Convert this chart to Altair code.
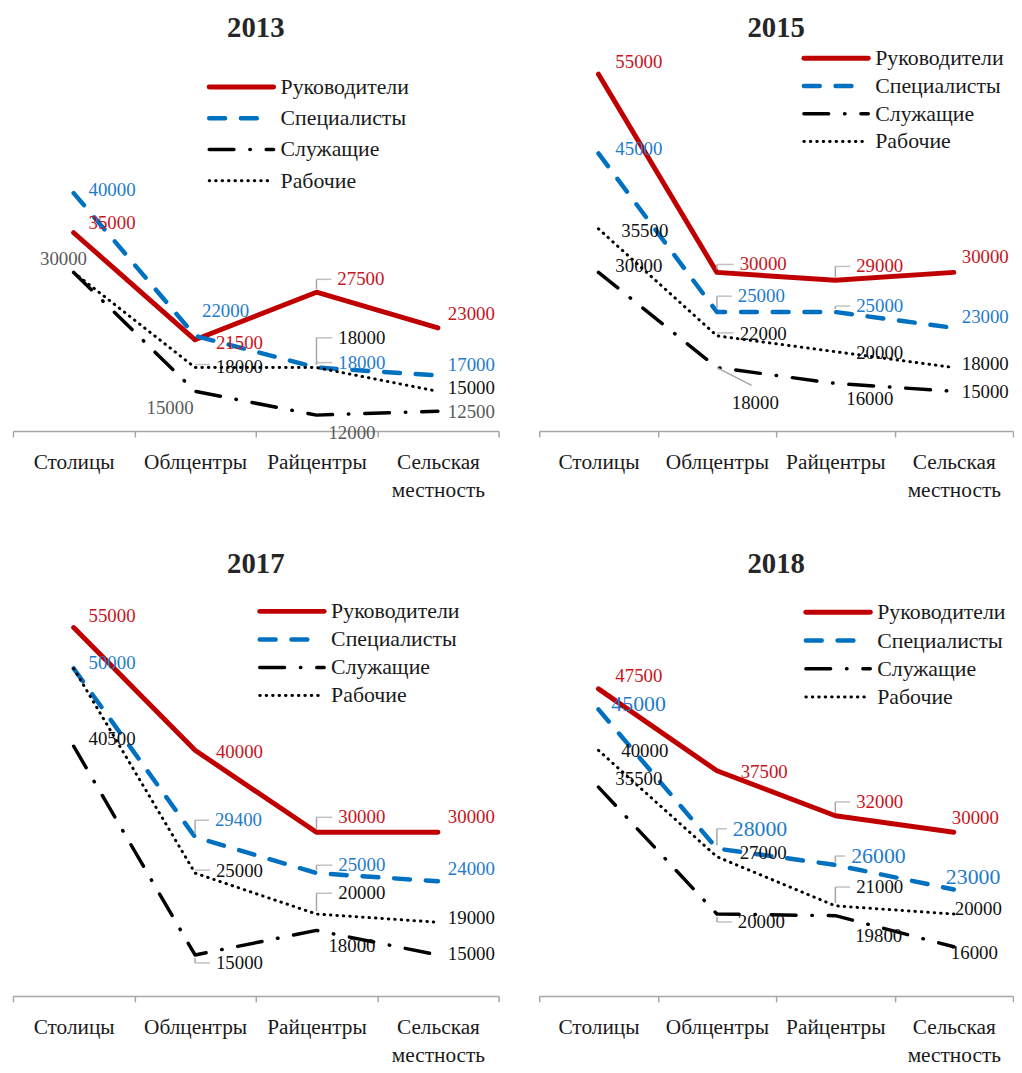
import altair as alt
import pandas as pd

categories = ["Столицы", "Облцентры", "Райцентры", "Сельская местность"]
series = ["Руководители", "Специалисты", "Служащие", "Рабочие"]
years = ["2013", "2015", "2017", "2018"]

# values (order of categories)
ruk_2013 = [35000, 21500, 27500, 23000]
spec_2013 = [40000, 22000, 18000, 17000]
sluzh_2013 = [30000, 15000, 12000, 12500]
rab_2013 = [30000, 18000, 18000, 15000]

ruk_2015 = [55000, 30000, 29000, 30000]
spec_2015 = [45000, 25000, 25000, 23000]
sluzh_2015 = [30000, 18000, 16000, 15000]
rab_2015 = [35500, 22000, 20000, 18000]

ruk_2017 = [55000, 40000, 30000, 30000]
spec_2017 = [50000, 29400, 25000, 24000]
sluzh_2017 = [40500, 15000, 18000, 15000]
rab_2017 = [50000, 25000, 20000, 19000]

ruk_2018 = [47500, 37500, 32000, 30000]
spec_2018 = [45000, 28000, 26000, 23000]
sluzh_2018 = [35500, 20000, 19800, 16000]
rab_2018 = [40000, 27000, 21000, 20000]

values = {
    "2013": [ruk_2013, spec_2013, sluzh_2013, rab_2013],
    "2015": [ruk_2015, spec_2015, sluzh_2015, rab_2015],
    "2017": [ruk_2017, spec_2017, sluzh_2017, rab_2017],
    "2018": [ruk_2018, spec_2018, sluzh_2018, rab_2018],
}

# ---- styling (kept apart from data) ----
FONT = "Liberation Serif"
line_styles = [
    dict(color="#C00000", strokeWidth=5),
    dict(color="#0070C0", strokeWidth=4.5, strokeDash=[16, 16]),
    dict(color="#000000", strokeWidth=3.5, strokeDash=[25, 16, 0.5, 16]),
    dict(color="#000000", strokeWidth=3, strokeDash=[0.5, 6]),
]
legend_lengths = [65, 60, 65, 65]
label_colors = ["#C8141C", "#1F7BCB", "#111111", "#111111"]
GRAY_TEXT = "#595959"
LEADER = "#A6A6A6"

# label offsets in pixels (dx, dy) from each point; None = no label
label_offsets = {
    "2013": [
        [(15, -10), (21, 3), (21, -13), (10, -14)],
        [(15, -3), (7, -25), (22, -5), (10, -11)],
        [(-34, -13), (-49, 17), (12, 18), (10, 1)],
        [None, (21, 0), (22, -30), (10, -3)],
    ],
    "2015": [
        [(17, -12), (23, -8), (21, -14), (8, -15)],
        [(17, -4), (21, -16), (21, -6), (8, -11)],
        [(17, -6), (15, 36), (11, 16), (8, 1)],
        [(23, 2), (23, -2), (21, 1), (8, -4)],
    ],
    "2017": [
        [(15, -12), (21, 2), (22, -15), (10, -15)],
        [(15, -5), (20, -17), (22, -8), (10, -12)],
        [(15, -7), (21, 8), (12, 16), (10, -1)],
        [None, (21, -2), (22, -21), (10, -4)],
    ],
    "2018": [
        [(17, -13), (24, 1), (21, -14), (-2, -14)],
        [(13, -5), (16, -20), (16, -9), (-8, -13)],
        [(17, -8), (21, 8), (20, 21), (-3, 6)],
        [(23, 1), (23, -4), (21, -19), (1, -5)],
    ],
}
# leader lines: (year, series index, category index, kind)
leaders = [
    ("2013", 0, 2, "b"), ("2013", 1, 2, "b"), ("2013", 3, 1, "b"), ("2013", 3, 2, "b"),
    ("2015", 0, 1, "b"), ("2015", 0, 2, "b"), ("2015", 1, 1, "b"), ("2015", 1, 2, "b"),
    ("2015", 3, 1, "b"), ("2015", 2, 1, "d"),
    ("2017", 0, 2, "b"), ("2017", 1, 1, "b"), ("2017", 1, 2, "b"), ("2017", 3, 1, "b"),
    ("2017", 3, 2, "b"), ("2017", 2, 1, "b"),
    ("2018", 0, 2, "b"), ("2018", 1, 1, "b"), ("2018", 1, 2, "b"), ("2018", 3, 2, "b"),
    ("2018", 2, 1, "b"),
]
# legend placement per panel: (x of symbol start, first row y, row step)
legend_pos = {"2013": (198, 53, 31.5), "2015": (267, 24, 28),
              "2017": (249, 25, 28.3), "2018": (269, 26, 28.5)}


def panel(year, width, height, title_offset, clip):
    vals = values[year]
    xenc = alt.X(
        "cat:N", sort=categories, bandPosition=0.5,
        scale=alt.Scale(domain=categories, paddingInner=0, paddingOuter=0),
        axis=alt.Axis(
            title=None, labelAngle=0, grid=False, tickBand="extent",
            domainColor="#A6A6A6", domainWidth=1.5, tickColor="#A6A6A6",
            tickWidth=1.5, tickSize=6, labelFont=FONT, labelFontSize=21.5,
            labelColor="#1a1a1a", labelPadding=15, labelLineHeight=28,
            labelOverlap=False,
            labelExpr="datum.value == 'Сельская местность' ? ['Сельская', 'местность'] : datum.value",
        ),
    )
    yenc = alt.Y("v:Q", scale=alt.Scale(domain=[10000, 60000], nice=False, zero=False), axis=None)
    layers = []
    for si in range(len(series)):
        df = pd.DataFrame({"cat": categories, "v": vals[si]})
        layers.append(
            alt.Chart(df).mark_line(strokeCap="round", strokeJoin="round", **line_styles[si])
            .encode(x=xenc, y=yenc)
        )
    # leader lines
    for (yr, si, ci, kind) in leaders:
        if yr != year:
            continue
        dx, dy = label_offsets[year][si][ci]
        df = pd.DataFrame({"cat": [categories[ci]], "v": [vals[si][ci]]})
        if kind == "d":
            layers.append(
                alt.Chart(df).mark_rule(color=LEADER, strokeWidth=1.5, x2Offset=35, y2Offset=18)
                .encode(x=xenc, x2="cat:N", y=yenc, y2="v:Q")
            )
            continue
        sign = -1 if dy < 0 else 1
        if abs(dy) > 4:
            layers.append(
                alt.Chart(df).mark_rule(color=LEADER, strokeWidth=1.5, yOffset=sign * 3, y2Offset=dy)
                .encode(x=xenc, y=yenc, y2="v:Q")
            )
        length = max(dx - 6, 4)
        layers.append(
            alt.Chart(df).mark_tick(color=LEADER, orient="horizontal", size=length, thickness=1.5,
                                    xOffset=length / 2, yOffset=dy if abs(dy) > 4 else -3)
            .encode(x=xenc, y=yenc)
        )
    # value labels
    for si in range(len(series)):
        for ci in range(len(categories)):
            off = label_offsets[year][si][ci]
            if off is None:
                continue
            color = label_colors[si]
            if year == "2013" and si == 2:
                color = GRAY_TEXT
            fsize = 22 if (year == "2018" and si == 1) else 19
            df = pd.DataFrame({"cat": [categories[ci]], "v": [vals[si][ci]], "t": [str(vals[si][ci])]})
            layers.append(
                alt.Chart(df).mark_text(align="left", baseline="middle", dx=off[0], dy=off[1],
                                        font=FONT, fontSize=fsize, color=color, clip=clip)
                .encode(x=xenc, y=yenc, text="t:N")
            )
    # legend
    lx, ly, step = legend_pos[year]
    dummy = pd.DataFrame({"k": [0]})
    for si, s in enumerate(series):
        yy = ly + si * step
        layers.append(
            alt.Chart(dummy).mark_rule(strokeCap="round", **line_styles[si])
            .encode(x=alt.value(lx), x2=alt.value(lx + legend_lengths[si]), y=alt.value(yy))
        )
        layers.append(
            alt.Chart(dummy).mark_text(align="left", baseline="middle", font=FONT, fontSize=22,
                                       color="#1a1a1a", clip=clip)
            .encode(x=alt.value(lx + 72), y=alt.value(yy), text=alt.value(s))
        )
    return alt.layer(*layers).properties(
        width=width, height=height,
        title=alt.TitleParams(year, font=FONT, fontSize=29, fontWeight="bold", color="#262626",
                              anchor="middle", baseline="alphabetic", offset=title_offset),
    )


top = alt.hconcat(panel("2013", 490, 400, -32, False), panel("2015", 478, 400, -32, True),
                  spacing=39).resolve_scale(x="independent", y="independent")
bottom = alt.hconcat(panel("2017", 490, 413, -15, False), panel("2018", 478, 413, -15, True),
                     spacing=39).resolve_scale(x="independent", y="independent")
chart = alt.vconcat(top, bottom, spacing=49).resolve_scale(x="independent", y="independent")
chart = chart.properties(
    padding={"left": 4, "top": 2, "right": 0, "bottom": 0},
    background="white",
).configure_view(stroke=None)

chart.save("out.html", embed_options={"renderer": "svg", "actions": False})
